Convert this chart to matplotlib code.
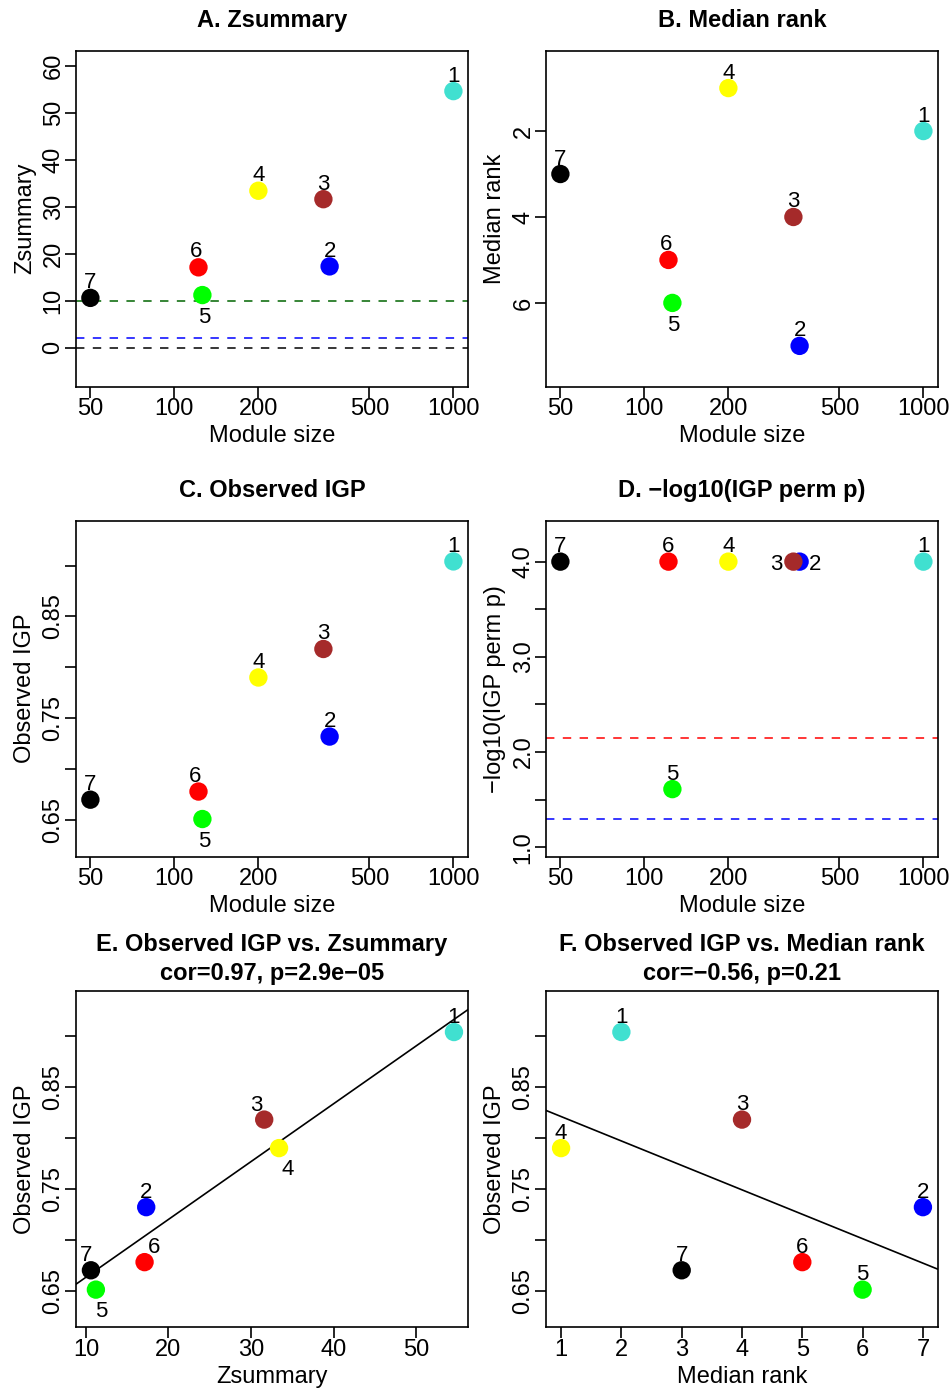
import numpy as np
import matplotlib
matplotlib.use('Agg')
import matplotlib.pyplot as plt
from matplotlib.ticker import FixedLocator, FixedFormatter, NullLocator

plt.rcParams['font.family'] = ['Liberation Sans', 'DejaVu Sans']

# module preservation statistics, one entry per module
modules = ['1', '2', '3', '4', '5', '6', '7']
module_colors = ['turquoise', 'blue', 'brown', 'yellow', '#00FF00', 'red', 'black']
module_size = [1000, 360, 342, 200, 126, 122, 50]
zsummary = [54.6, 17.3, 31.6, 33.4, 11.2, 17.1, 10.6]
median_rank = [2, 7, 4, 1, 6, 5, 3]
observed_igp = [0.904, 0.732, 0.818, 0.790, 0.651, 0.678, 0.670]
neglog_p = [4.0, 4.0, 4.0, 4.0, 1.61, 4.0, 4.0]

# reference lines
z_lines = [0, 2, 10]
z_line_colors = ['black', 'blue', 'darkgreen']
p_level = 0.05
n_modules = 7

size_ticks = [50, 100, 200, 500, 1000]

FS = 17
LFS = 16
PX = 0.72  # pixels -> points at dpi 100

fig = plt.figure(figsize=(9.52, 13.91), dpi=100)
lefts = [76 / 952, 546 / 952]
bottoms = [1 - 386.7 / 1391, 1 - 856.7 / 1391, 1 - 1327.3 / 1391]
W = 392 / 952
H = 336 / 1391
axes = [[fig.add_axes([l, b, W, H]) for l in lefts] for b in bottoms]


def style(ax):
    for sp in ax.spines.values():
        sp.set_linewidth(1.2)
    ax.tick_params(direction='out', length=7.9, width=1.2, labelsize=FS, pad=0.5)
    ax.tick_params(axis='y', pad=0.3)
    ax.yaxis.set_minor_locator(NullLocator())
    ax.xaxis.set_minor_locator(NullLocator())


def yticks(ax, ticks, labels):
    ax.yaxis.set_major_locator(FixedLocator(ticks))
    ax.yaxis.set_major_formatter(FixedFormatter(labels))
    for t in ax.get_yticklabels():
        t.set_rotation(90)
        t.set_va('center')


def panel(ax, x, y, title, xlabel, ylabel, offsets, pad=17.3):
    ax.scatter(x, y, s=175, c=module_colors, linewidths=0, zorder=3)
    for i, lab in enumerate(modules):
        dx, dy = offsets.get(lab, (0, 17.5))
        ax.annotate(lab, (x[i], y[i]), xytext=(dx * PX, (dy - 8) * PX),
                    textcoords='offset points', ha='center', va='baseline',
                    fontsize=LFS, zorder=4, annotation_clip=False)
    ax.set_title(title, fontsize=FS, fontweight='bold', pad=pad, linespacing=1.32)
    ax.set_xlabel(xlabel, fontsize=FS, labelpad=3.5)
    ax.set_ylabel(ylabel, fontsize=FS, labelpad=4.6)
    style(ax)


def size_axis(ax):
    ax.set_xscale('log')
    ax.set_xlim(44.4, 1128)
    ax.xaxis.set_major_locator(FixedLocator(size_ticks))
    ax.xaxis.set_major_formatter(FixedFormatter([str(t) for t in size_ticks]))
    ax.xaxis.set_minor_locator(NullLocator())


igp_ticks = [0.65, 0.70, 0.75, 0.80, 0.85, 0.90]
igp_labels = ['0.65', '', '0.75', '', '0.85', '']

# A. Zsummary
ax = axes[0][0]
for v, c in zip(z_lines, z_line_colors):
    ax.axhline(v, color=c, lw=1.1, ls=(0, (5.5, 5.5)), zorder=1)
panel(ax, module_size, zsummary, 'A. Zsummary', 'Module size', 'Zsummary',
      {'5': (2, -20), '6': (-2.5, 18)})
size_axis(ax)
ax.set_ylim(-8.3, 63.2)
yticks(ax, [0, 10, 20, 30, 40, 50, 60], ['0', '10', '20', '30', '40', '50', '60'])

# B. Median rank
ax = axes[0][1]
panel(ax, module_size, median_rank, 'B. Median rank', 'Module size', 'Median rank',
      {'5': (1, -20), '6': (-2, 17.5)})
size_axis(ax)
ax.set_ylim(7.95, 0.13)
yticks(ax, [2, 4, 6], ['2', '4', '6'])

# C. Observed IGP
ax = axes[1][0]
panel(ax, module_size, observed_igp, 'C. Observed IGP', 'Module size', 'Observed IGP',
      {'5': (2, -19.5), '6': (-3, 17.5)})
size_axis(ax)
ax.set_ylim(0.614, 0.944)
yticks(ax, igp_ticks, igp_labels)

# D. -log10 permutation p
ax = axes[1][1]
ax.axhline(-np.log10(p_level / n_modules), color='red', lw=1.1, ls=(0, (5.5, 5.5)), zorder=1)
ax.axhline(-np.log10(p_level), color='blue', lw=1.1, ls=(0, (5.5, 5.5)), zorder=1)
panel(ax, module_size, neglog_p, 'D. \u2212log10(IGP perm p)', 'Module size',
      '\u2212log10(IGP perm p)', {'3': (-16.7, 0), '2': (15.3, 0)})
size_axis(ax)
ax.set_ylim(0.90, 4.43)
yticks(ax, [1.0, 1.5, 2.0, 2.5, 3.0, 3.5, 4.0], ['1.0', '', '2.0', '', '3.0', '', '4.0'])

# E. IGP vs Zsummary
ax = axes[2][0]
m, b = np.polyfit(zsummary, observed_igp, 1)
ax.axline((0, b), slope=m, color='black', lw=1.2, zorder=2)
panel(ax, zsummary, observed_igp, 'E. Observed IGP vs. Zsummary\ncor=0.97, p=2.9e\u221205',
      'Zsummary', 'Observed IGP',
      {'4': (9, -19), '5': (5, -19.3), '6': (9, 16.7), '3': (-8, 17), '7': (-5, 17.3)},
      pad=8)
ax.set_xlim(8.79, 56.3)
ax.set_ylim(0.614, 0.944)
ax.xaxis.set_major_locator(FixedLocator([10, 20, 30, 40, 50]))
yticks(ax, igp_ticks, igp_labels)

# F. IGP vs median rank
ax = axes[2][1]
m, b = np.polyfit(median_rank, observed_igp, 1)
ax.axline((0, b), slope=m, color='black', lw=1.2, zorder=2)
panel(ax, median_rank, observed_igp, 'F. Observed IGP vs. Median rank\ncor=\u22120.56, p=0.21',
      'Median rank', 'Observed IGP', {'4': (-0.7, 17)}, pad=8)
ax.set_xlim(0.75, 7.25)
ax.set_ylim(0.614, 0.944)
ax.xaxis.set_major_locator(FixedLocator([1, 2, 3, 4, 5, 6, 7]))
yticks(ax, igp_ticks, igp_labels)

fig.savefig('out.png', dpi=100)
